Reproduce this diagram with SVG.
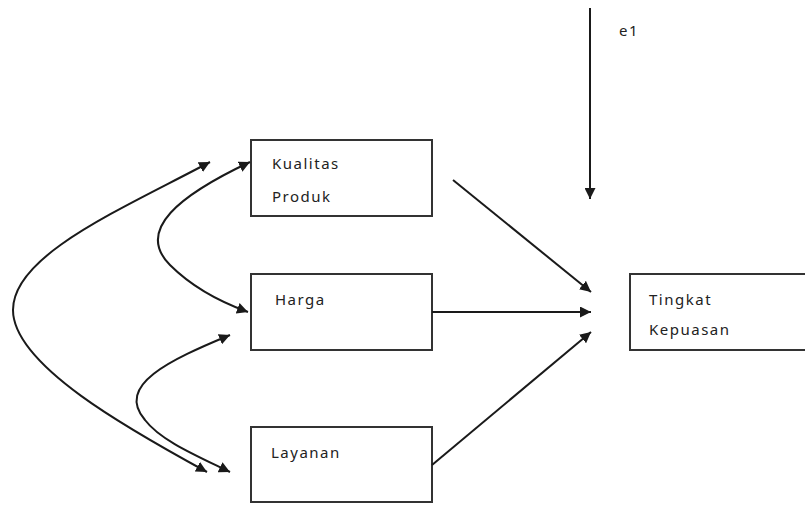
<svg xmlns="http://www.w3.org/2000/svg" width="805" height="505" viewBox="0 0 805 505">
<defs>
<marker id="ah" viewBox="0 0 10 10" refX="10" refY="5" markerWidth="11" markerHeight="11" markerUnits="userSpaceOnUse" orient="auto-start-reverse">
<path d="M0,0 L10,5 L0,10 z" fill="#1a1a1a"/>
</marker>
<style>
.box{fill:#fff;stroke:#333;stroke-width:2}
.t{font-family:"Noto Sans","Open Sans",sans-serif;font-size:15px;fill:#222;letter-spacing:1.5px}
.c{fill:none;stroke:#1a1a1a;stroke-width:2}
</style>
</defs>
<rect width="805" height="505" fill="#fff"/>
<g id="kualitas">
<rect class="box" x="251" y="140" width="181" height="76"/>
<text class="t" x="272" y="169">Kualitas</text>
<text class="t" x="272" y="202">Produk</text>
</g>
<g id="harga">
<rect class="box" x="251" y="274" width="181" height="76"/>
<text class="t" x="275" y="305">Harga</text>
</g>
<g id="layanan">
<rect class="box" x="251" y="427" width="181" height="75"/>
<text class="t" x="271" y="458">Layanan</text>
</g>
<g id="tingkat">
<rect class="box" x="630" y="274" width="190" height="76"/>
<text class="t" x="649" y="305">Tingkat</text>
<text class="t" x="649" y="335">Kepuasan</text>
</g>
<g id="e1">
<text class="t" x="619" y="36">e1</text>
</g>
<g id="connectors">
<path class="c" d="M590,8 L590,199" marker-end="url(#ah)"/>
<path class="c" d="M453,180 L591,292" marker-end="url(#ah)"/>
<path class="c" d="M432,312 L591,312" marker-end="url(#ah)"/>
<path class="c" d="M432,465 L591,332" marker-end="url(#ah)"/>
<path class="c" d="M210,162 C120,210 13,255 13,310 C13,365 130,430 207,472" marker-start="url(#ah)" marker-end="url(#ah)"/>
<path class="c" d="M250,162 C180,195 135,230 170,265 C190,285 215,300 248,312" marker-start="url(#ah)" marker-end="url(#ah)"/>
<path class="c" d="M230,335 C170,360 115,385 145,420 C160,440 195,455 230,472" marker-start="url(#ah)" marker-end="url(#ah)"/>
</g>
</svg>
